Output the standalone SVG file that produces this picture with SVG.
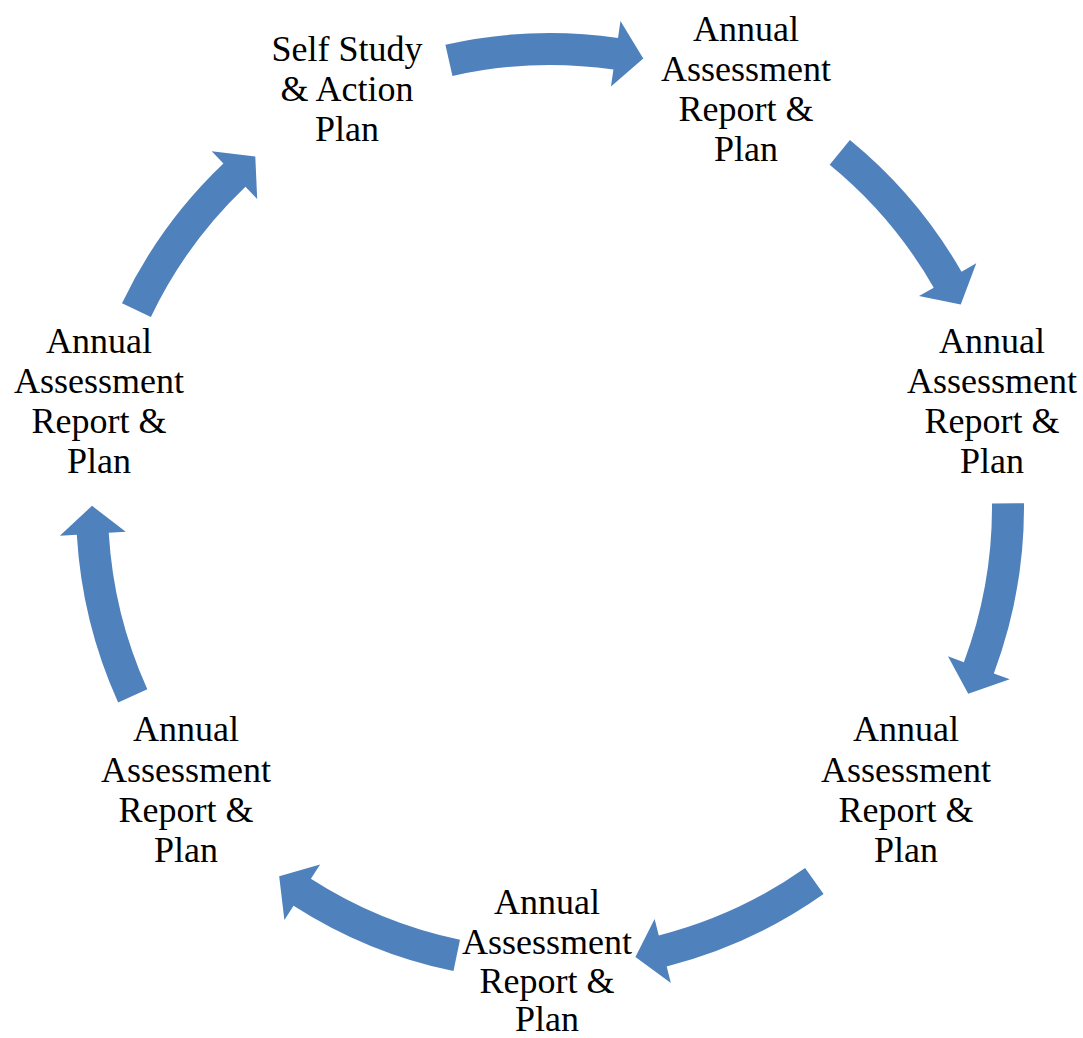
<svg xmlns="http://www.w3.org/2000/svg" xmlns:xlink="http://www.w3.org/1999/xlink" width="1083" height="1038" viewBox="0 0 1083 1038">
  <style>
    .lbl { font-family: "Liberation Serif", "Times New Roman", serif; font-size: 36px; fill: #000; text-anchor: middle; }
    .arr { fill: #4F81BD; }
  </style>
  <defs>
    <path id="arc-arrow" class="arr" d="M-100.57,-463.21 A474,474 0 0 1 72.10,-468.48 L74.69,-485.28 L97.18,-447.57 L64.65,-420.05 L67.24,-436.86 A442,442 0 0 0 -93.78,-431.94 Z"/>
  </defs>
  <rect width="1083" height="1038" fill="#fff"/>
  <g id="connectors">
    <use xlink:href="#arc-arrow" transform="translate(550 507) rotate(-0.5)"/>
    <use xlink:href="#arc-arrow" transform="translate(550 507) rotate(51.5)"/>
    <use xlink:href="#arc-arrow" transform="translate(550 507) rotate(101.8)"/>
    <use xlink:href="#arc-arrow" transform="translate(550 507) rotate(157)"/>
    <use xlink:href="#arc-arrow" transform="translate(550 507) rotate(204)"/>
    <use xlink:href="#arc-arrow" transform="translate(550 507) rotate(257.9)"/>
    <use xlink:href="#arc-arrow" transform="translate(550 507) rotate(307.7)"/>
  </g>
  <g id="node-self-study">
    <text class="lbl"><tspan x="347" y="61">Self Study</tspan><tspan x="347" y="101">&amp; Action</tspan><tspan x="347" y="141">Plan</tspan></text>
  </g>
  <g id="node-annual-1">
    <text class="lbl"><tspan x="746" y="41">Annual</tspan><tspan x="746" y="81">Assessment</tspan><tspan x="746" y="121">Report &amp;</tspan><tspan x="746" y="161">Plan</tspan></text>
  </g>
  <g id="node-annual-2">
    <text class="lbl"><tspan x="992" y="353">Annual</tspan><tspan x="992" y="393">Assessment</tspan><tspan x="992" y="433">Report &amp;</tspan><tspan x="992" y="473">Plan</tspan></text>
  </g>
  <g id="node-annual-3">
    <text class="lbl"><tspan x="906" y="741">Annual</tspan><tspan x="906" y="782">Assessment</tspan><tspan x="906" y="822">Report &amp;</tspan><tspan x="906" y="862">Plan</tspan></text>
  </g>
  <g id="node-annual-4">
    <text class="lbl"><tspan x="547" y="914">Annual</tspan><tspan x="547" y="954">Assessment</tspan><tspan x="547" y="993">Report &amp;</tspan><tspan x="547" y="1031">Plan</tspan></text>
  </g>
  <g id="node-annual-5">
    <text class="lbl"><tspan x="186" y="741">Annual</tspan><tspan x="186" y="782">Assessment</tspan><tspan x="186" y="822">Report &amp;</tspan><tspan x="186" y="862">Plan</tspan></text>
  </g>
  <g id="node-annual-6">
    <text class="lbl"><tspan x="99" y="353">Annual</tspan><tspan x="99" y="393">Assessment</tspan><tspan x="99" y="433">Report &amp;</tspan><tspan x="99" y="473">Plan</tspan></text>
  </g>
</svg>
